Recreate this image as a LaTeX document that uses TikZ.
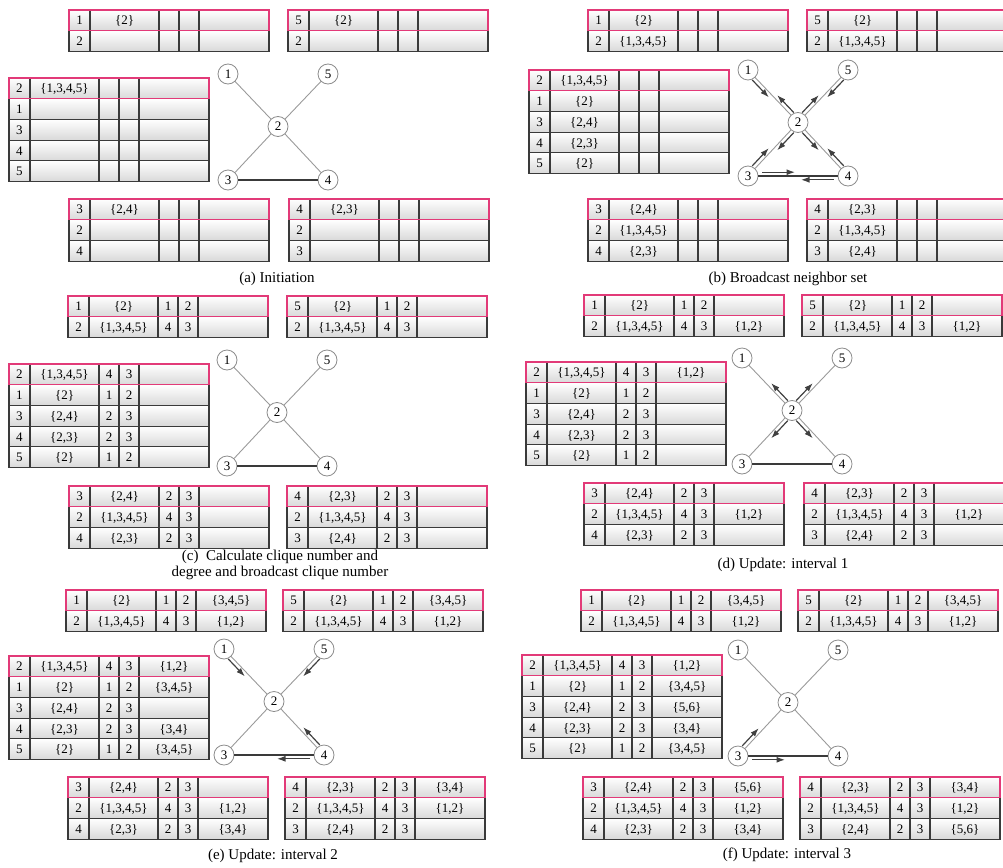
\documentclass[tikz,border=0pt]{standalone}
\usepackage{fontspec}
\setmainfont{Liberation Serif}
\usetikzlibrary{calc, arrows.meta}
\definecolor{tinta}{HTML}{3A3A3A}
\definecolor{rosa}{HTML}{E23A78}
\definecolor{grisarista}{HTML}{9A9A9A}
\newcommand{\altofila}{20.7}
\newcommand{\cj}[1]{\{#1\}}
\tikzset{
  % Celdas de las tablas: degradado claro y borde oscuro
  celda/.style    = {draw=tinta, line width=1.1pt, top color=white, bottom color=black!15},
  borde/.style    = {draw=tinta, line width=1.1pt},
  % Fila propia del nodo (la primera de cada tabla)
  cabecera/.style = {draw=rosa, line width=1.4pt},
  dato/.style     = {inner sep=0pt, anchor=base, font=\fontsize{13}{15}\selectfont, text=black},
  % Grafo
  vertice/.style  = {circle, draw=black!45, fill=white, line width=0.8pt,
                     minimum size=20pt, inner sep=0pt, font=\fontsize{13}{15}\selectfont},
  arista/.style   = {draw=grisarista, line width=0.9pt},
  arista fuerte/.style = {draw=tinta, line width=1.1pt},
  mensaje/.style  = {draw=black!75, line width=1.2pt, -{Latex[length=8.5pt,width=6pt]}},
  leyenda/.style  = {font=\fontsize{15}{16}\selectfont, align=center},
}
% tabla: #1 esquina superior izquierda, #2 nombre, #3 filas id/conjunto/c/g/cl
\newcommand{\tabla}[3]{%
  \begin{scope}[shift={(#1)}]
    \foreach \nid/\conj/\cq/\gr/\cli [count=\f from 0] in {#3} {
      \draw[celda] (0,{\f*\altofila}) rectangle ++(200,\altofila);
      \foreach \xc in {21,90,110,130}
        \draw[borde] (\xc,{\f*\altofila}) -- ++(0,\altofila);
      \node[dato] (#2-\f-1) at (10.5,{(\f+0.5)*\altofila+4.6}) {\nid};
      \node[dato] (#2-\f-2) at (55.5,{(\f+0.5)*\altofila+4.6}) {\conj};
      \node[dato] (#2-\f-3) at (100,{(\f+0.5)*\altofila+4.6}) {\cq};
      \node[dato] (#2-\f-4) at (120,{(\f+0.5)*\altofila+4.6}) {\gr};
      \node[dato] (#2-\f-5) at (165,{(\f+0.5)*\altofila+4.6}) {\cli};
    }
    \draw[cabecera] (0,0) rectangle (200,\altofila);
  \end{scope}}
% grafo de cinco nodos, #1 prefijo, #2 posicion del nodo 1
\newcommand{\grafo}[2]{%
  \begin{scope}[shift={(#2)}]
    \node[vertice] (#1-1) at (0,0) {1};
    \node[vertice] (#1-5) at (100,0) {5};
    \node[vertice] (#1-2) at (50,52.5) {2};
    \node[vertice] (#1-3) at (0,106) {3};
    \node[vertice] (#1-4) at (100,106) {4};
    \draw[arista] (#1-1) -- (#1-2);
    \draw[arista] (#1-5) -- (#1-2);
    \draw[arista] (#1-2) -- (#1-3);
    \draw[arista] (#1-2) -- (#1-4);
    \draw[arista fuerte] (#1-3) -- (#1-4);
  \end{scope}}
% mensaje de #1 a #2, desplazado a un lado (#3 = 90 o -90)
\newcommand{\msj}[3]{%
  \draw[mensaje] ($(#1)!0.14!(#2)!3.8pt!#3:(#2)$) -- ($(#1)!0.47!(#2)!3.8pt!#3:(#2)$);}

\begin{document}
\begin{tikzpicture}[x=1pt, y=-1pt]
  \useasboundingbox (0,0) rectangle (1003,867);

  % ===== (a) Initiation =====
  \tabla{69,10}{a-t1}{1/\cj{2}///, 2////}
  \tabla{288,10}{a-t5}{5/\cj{2}///, 2////}
  \tabla{9,78}{a-t2}{2/\cj{1,3,4,5}///, 1////, 3////, 4////, 5////}
  \tabla{69,199}{a-t3}{3/\cj{2,4}///, 2////, 4////}
  \tabla{289,199}{a-t4}{4/\cj{2,3}///, 2////, 3////}
  \grafo{a}{228,74}
  \node[leyenda] (a-ley) at (277,279) {(a) Initiation};

  % ===== (b) Broadcast neighbor set =====
  \tabla{588,10}{b-t1}{1/\cj{2}///, 2/\cj{1,3,4,5}///}
  \tabla{807,10}{b-t5}{5/\cj{2}///, 2/\cj{1,3,4,5}///}
  \tabla{529,70}{b-t2}{2/\cj{1,3,4,5}///, 1/\cj{2}///, 3/\cj{2,4}///,
                       4/\cj{2,3}///, 5/\cj{2}///}
  \tabla{588,199}{b-t3}{3/\cj{2,4}///, 2/\cj{1,3,4,5}///, 4/\cj{2,3}///}
  \tabla{807,199}{b-t4}{4/\cj{2,3}///, 2/\cj{1,3,4,5}///, 3/\cj{2,4}///}
  \grafo{b}{748,70}
  \msj{b-1}{b-2}{-90} \msj{b-2}{b-1}{-90}
  \msj{b-5}{b-2}{90}  \msj{b-2}{b-5}{90}
  \msj{b-3}{b-2}{90}  \msj{b-2}{b-3}{90}
  \msj{b-4}{b-2}{-90} \msj{b-2}{b-4}{-90}
  \msj{b-3}{b-4}{90}  \msj{b-4}{b-3}{90}
  \node[leyenda] (b-ley) at (788,279) {(b) Broadcast neighbor set};

  % ===== (c) clique number and degree =====
  \tabla{68,296}{c-t1}{1/\cj{2}/1/2/, 2/\cj{1,3,4,5}/4/3/}
  \tabla{287,296}{c-t5}{5/\cj{2}/1/2/, 2/\cj{1,3,4,5}/4/3/}
  \tabla{9,364}{c-t2}{2/\cj{1,3,4,5}/4/3/, 1/\cj{2}/1/2/, 3/\cj{2,4}/2/3/,
                      4/\cj{2,3}/2/3/, 5/\cj{2}/1/2/}
  \tabla{69,486}{c-t3}{3/\cj{2,4}/2/3/, 2/\cj{1,3,4,5}/4/3/, 4/\cj{2,3}/2/3/}
  \tabla{287,486}{c-t4}{4/\cj{2,3}/2/3/, 2/\cj{1,3,4,5}/4/3/, 3/\cj{2,4}/2/3/}
  \grafo{c}{227,360}
  \node[leyenda] (c-ley) at (280,565)
    {(c)\enspace Calculate clique number and\\degree and broadcast clique number};

  % ===== (d) Update: interval 1 =====
  \tabla{584,295}{d-t1}{1/\cj{2}/1/2/, 2/\cj{1,3,4,5}/4/3/\cj{1,2}}
  \tabla{802,295}{d-t5}{5/\cj{2}/1/2/, 2/\cj{1,3,4,5}/4/3/\cj{1,2}}
  \tabla{526,362}{d-t2}{2/\cj{1,3,4,5}/4/3/\cj{1,2}, 1/\cj{2}/1/2/, 3/\cj{2,4}/2/3/,
                        4/\cj{2,3}/2/3/, 5/\cj{2}/1/2/}
  \tabla{584,483}{d-t3}{3/\cj{2,4}/2/3/, 2/\cj{1,3,4,5}/4/3/\cj{1,2}, 4/\cj{2,3}/2/3/}
  \tabla{804,483}{d-t4}{4/\cj{2,3}/2/3/, 2/\cj{1,3,4,5}/4/3/\cj{1,2}, 3/\cj{2,4}/2/3/}
  \grafo{d}{742,358}
  \msj{d-2}{d-1}{-90} \msj{d-2}{d-5}{90}
  \msj{d-2}{d-3}{90}  \msj{d-2}{d-4}{-90}
  \node[leyenda] (d-ley) at (783,565) {(d) Update: interval 1};

  % ===== (e) Update: interval 2 =====
  \tabla{66,590}{e-t1}{1/\cj{2}/1/2/\cj{3,4,5}, 2/\cj{1,3,4,5}/4/3/\cj{1,2}}
  \tabla{283,590}{e-t5}{5/\cj{2}/1/2/\cj{3,4,5}, 2/\cj{1,3,4,5}/4/3/\cj{1,2}}
  \tabla{9,656}{e-t2}{2/\cj{1,3,4,5}/4/3/\cj{1,2}, 1/\cj{2}/1/2/\cj{3,4,5}, 3/\cj{2,4}/2/3/,
                      4/\cj{2,3}/2/3/\cj{3,4}, 5/\cj{2}/1/2/\cj{3,4,5}}
  \tabla{68,777}{e-t3}{3/\cj{2,4}/2/3/, 2/\cj{1,3,4,5}/4/3/\cj{1,2}, 4/\cj{2,3}/2/3/\cj{3,4}}
  \tabla{285,777}{e-t4}{4/\cj{2,3}/2/3/\cj{3,4}, 2/\cj{1,3,4,5}/4/3/\cj{1,2}, 3/\cj{2,4}/2/3/}
  \grafo{e}{224,649}
  \msj{e-1}{e-2}{-90} \msj{e-5}{e-2}{90}
  \msj{e-4}{e-2}{-90} \msj{e-4}{e-3}{90}
  \node[leyenda] (e-ley) at (273,856) {(e) Update: interval 2};

  % ===== (f) Update: interval 3 =====
  \tabla{581,590}{f-t1}{1/\cj{2}/1/2/\cj{3,4,5}, 2/\cj{1,3,4,5}/4/3/\cj{1,2}}
  \tabla{798,590}{f-t5}{5/\cj{2}/1/2/\cj{3,4,5}, 2/\cj{1,3,4,5}/4/3/\cj{1,2}}
  \tabla{522,655}{f-t2}{2/\cj{1,3,4,5}/4/3/\cj{1,2}, 1/\cj{2}/1/2/\cj{3,4,5}, 3/\cj{2,4}/2/3/\cj{5,6},
                        4/\cj{2,3}/2/3/\cj{3,4}, 5/\cj{2}/1/2/\cj{3,4,5}}
  \tabla{583,777}{f-t3}{3/\cj{2,4}/2/3/\cj{5,6}, 2/\cj{1,3,4,5}/4/3/\cj{1,2}, 4/\cj{2,3}/2/3/\cj{3,4}}
  \tabla{800,777}{f-t4}{4/\cj{2,3}/2/3/\cj{3,4}, 2/\cj{1,3,4,5}/4/3/\cj{1,2}, 3/\cj{2,4}/2/3/\cj{5,6}}
  \grafo{f}{738,650}
  \msj{f-3}{f-2}{90} \msj{f-3}{f-4}{-90}
  \node[leyenda] (f-ley) at (787,855) {(f) Update: interval 3};

\end{tikzpicture}
\end{document}
